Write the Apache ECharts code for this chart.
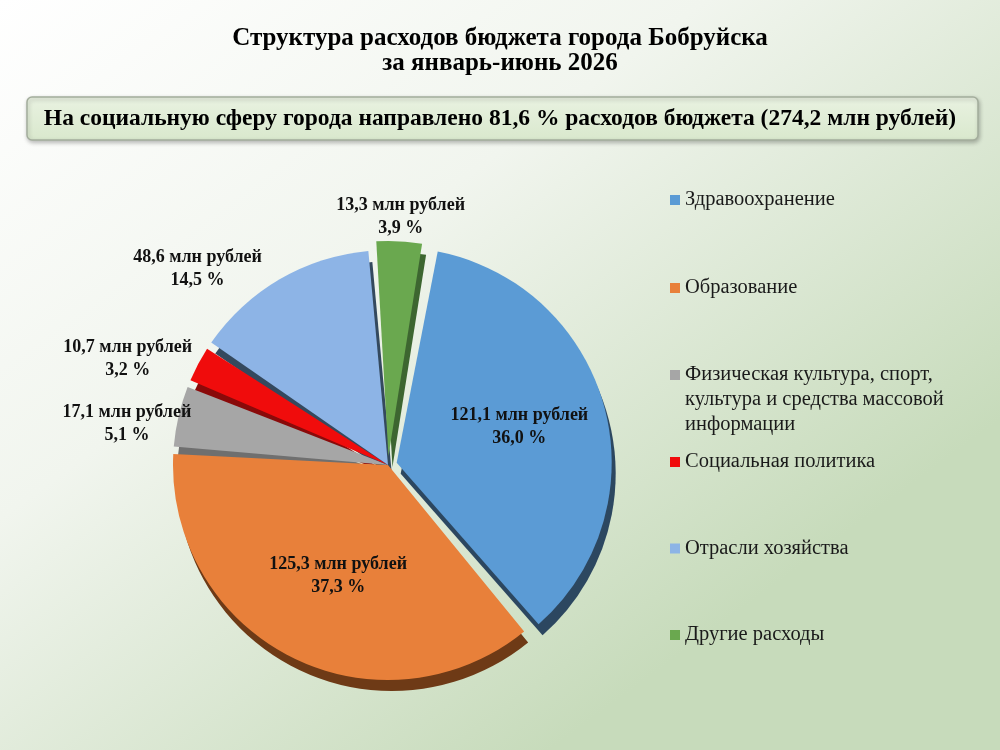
<!DOCTYPE html>
<html>
<head>
<meta charset="utf-8">
<script src="https://cdn.jsdelivr.net/npm/echarts@6/dist/echarts.min.js"></script>
<style>
html,body{margin:0;padding:0;width:1000px;height:750px;overflow:hidden;}
#chart{width:1000px;height:750px;}
</style>
</head>
<body>
<div id="chart"></div>
<script>
// ---- data ----
var categories = ['Здравоохранение', 'Образование', 'Физическая культура, спорт, культура и средства массовой информации', 'Социальная политика', 'Отрасли хозяйства', 'Другие расходы'];
var legendLabels = ['Здравоохранение', 'Образование', 'Физическая культура, спорт,\nкультура и средства массовой\nинформации', 'Социальная политика', 'Отрасли хозяйства', 'Другие расходы'];
var valuesMln = [121.1, 125.3, 17.1, 10.7, 48.6, 13.3];
var percents = [36.0, 37.3, 5.1, 3.2, 14.5, 3.9];
var exploded = [true, false, false, false, false, true];
var topColors = ['#5b9bd5', '#e8803a', '#a6a6a6', '#f00c0c', '#8db4e6', '#6aa84f'];
var sideColors = ['#2c4760', '#6e3a16', '#6f6f6f', '#8a0a0a', '#34495e', '#3d6630'];
var titleText = 'Структура расходов бюджета города Бобруйска\nза январь-июнь 2026';
var subtitleText = 'На социальную сферу города направлено 81,6 % расходов бюджета (274,2 млн рублей)';

function fmt(v) { return v.toFixed(1).replace('.', ','); }

var serif = "'Liberation Serif', 'Times New Roman', serif";

// label nudges (label placement styling only)
var labelNudge = [[16, -7], [0, 12], [42, 11], [22, 1], [5, 2], [-5, 4]];

var topData = categories.map(function (c, i) {
  var item = { name: c, value: valuesMln[i], selected: exploded[i], itemStyle: { color: topColors[i] } };
  if (i === 0 || i === 1) {
    item.label = { position: 'inside' };
  }
  if (i === 5) {
    item.labelLine = { length: 28, length2: 0 };
  }
  return item;
});
var sideData = categories.map(function (c, i) {
  return { name: c, value: valuesMln[i], selected: exploded[i], itemStyle: { color: sideColors[i] } };
});

var chart = echarts.init(document.getElementById('chart'));

var legendCommon = {
  orient: 'vertical',
  left: 670,
  padding: 0,
  icon: 'rect',
  itemWidth: 10,
  itemHeight: 10,
  selectedMode: false,
  textStyle: { fontFamily: serif, fontSize: 20.5, color: '#1a1a1a', lineHeight: 25 },
  formatter: function (name) {
    var i = categories.indexOf(name);
    var t = legendLabels[i];
    return t.indexOf('\n') >= 0 ? '\n\n' + t : t;
  }
};

var option = {
  backgroundColor: {
    type: 'linear', x: 0, y: 0, x2: 0.55, y2: 1,
    colorStops: [
      { offset: 0, color: '#ffffff' },
      { offset: 0.45, color: '#f1f5ee' },
      { offset: 1, color: '#c7dbbb' }
    ]
  },
  animation: false,
  title: [
    {
      text: titleText, left: 500, top: 26, padding: 0,
      textAlign: 'center',
      textStyle: { fontFamily: serif, fontWeight: 'bold', fontSize: 25, lineHeight: 25, color: '#000' }
    },
    {
      text: subtitleText, left: 'center', top: 105, padding: 0,
      textStyle: { fontFamily: serif, fontWeight: 'bold', fontSize: 23.5, lineHeight: 28, color: '#000' }
    }
  ],
  graphic: [
    {
      type: 'rect', z: -1, silent: true,
      shape: { x: 27, y: 97, width: 951, height: 43, r: 5 },
      style: {
        fill: { type: 'linear', x: 0, y: 0, x2: 0, y2: 1, colorStops: [{ offset: 0, color: '#e9f2e1' }, { offset: 1, color: '#d9e8cd' }] },
        stroke: '#a3ad9c', lineWidth: 1.5,
        shadowBlur: 4, shadowColor: 'rgba(0,0,0,0.25)', shadowOffsetX: 1, shadowOffsetY: 2
      }
    }
  ],
  legend: [
    Object.assign({}, legendCommon, { data: [categories[0], categories[1]], top: 187.5, itemGap: 63 }),
    Object.assign({}, legendCommon, { data: [categories[2]], top: 312.5 }),
    Object.assign({}, legendCommon, { data: [categories[3], categories[4], categories[5]], top: 449.5, itemGap: 61.5 })
  ],
  series: [
    {
      name: 'top',
      type: 'pie',
      z: 3,
      center: [388, 465],
      radius: 215,
      startAngle: 80,
      clockwise: true,
      padAngle: 2,
      selectedMode: 'multiple',
      selectedOffset: 9,
      silent: true,
      avoidLabelOverlap: false,
      emphasis: { disabled: true },
      label: {
        show: true,
        position: 'outside',
        formatter: function (p) {
          return '{a|' + fmt(valuesMln[p.dataIndex]) + ' млн рублей}\n{a|' + fmt(percents[p.dataIndex]) + ' %}';
        },
        rich: {
          a: { fontFamily: serif, fontWeight: 'bold', fontSize: 18, lineHeight: 23, color: '#111', width: 150, align: 'center' }
        }
      },
      labelLine: { show: false, length: 14, length2: 0 },
      labelLayout: function (p) {
        var n = labelNudge[p.dataIndex];
        var dx = n[0];
        if (p.dataIndex === 5) {
          dx = n[0] - p.labelRect.width / 2;
        }
        return { dx: dx, dy: n[1] };
      },
      data: topData
    },
    {
      name: 'side',
      type: 'pie',
      z: 1,
      center: [392, 476],
      radius: 215,
      startAngle: 80,
      clockwise: true,
      padAngle: 2,
      selectedMode: 'multiple',
      selectedOffset: 9,
      silent: true,
      emphasis: { disabled: true },
      label: { show: false },
      labelLine: { show: false },
      data: sideData
    }
  ]
};
chart.setOption(option);
</script>
</body>
</html>
